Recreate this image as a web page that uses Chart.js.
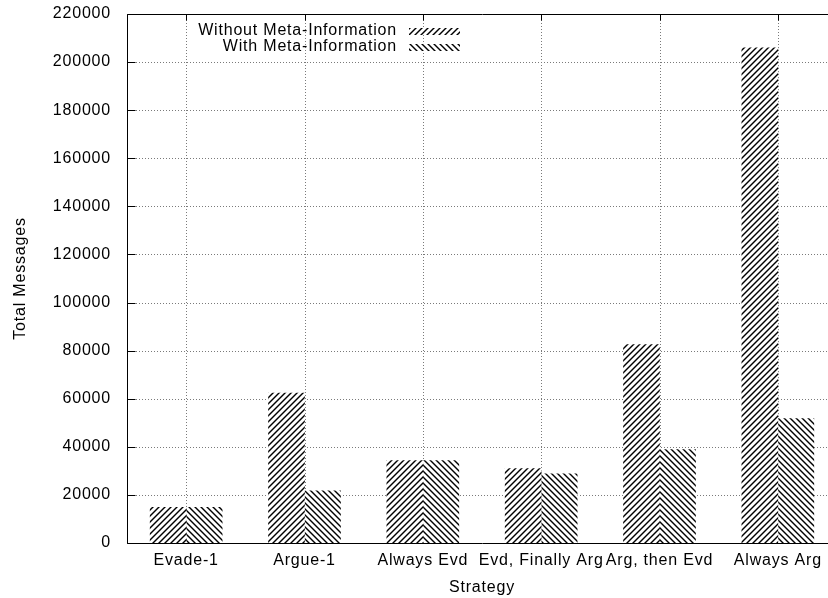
<!DOCTYPE html>
<html>
<head>
<meta charset="utf-8">
<script src="https://cdn.jsdelivr.net/npm/chart.js@4"></script>
<style>
  html, body { margin: 0; padding: 0; overflow: hidden; background: #fff; }
  #wrap { width: 845px; height: 598px; position: relative; }
</style>
</head>
<body>
<div id="wrap"><canvas id="c"></canvas></div>
<script>
// Total messages exchanged per strategy
const strategies = ['Evade-1', 'Argue-1', 'Always Evd', 'Evd, Finally Arg', 'Arg, then Evd', 'Always Arg'];
const withoutMeta = [14800, 62300, 34300, 31000, 82500, 205900];
const withMeta = [14800, 21700, 34300, 28800, 38800, 51700];
const seriesNames = ['Without Meta-Information', 'With Meta-Information'];
const yMax = 220000;
const yStep = 20000;

const FONT = 'Liberation Sans, Arial, Helvetica, sans-serif';
const SPACING = '0.8px';

const canvas = document.getElementById('c');
const ctx = canvas.getContext('2d');

// Black diagonal hatching on white; dir > 0 draws "/", dir < 0 draws "\"
function hatch(dir) {
  const p = 6;
  const t = document.createElement('canvas');
  t.width = p; t.height = p;
  const g = t.getContext('2d');
  g.fillStyle = '#fff';
  g.fillRect(0, 0, p, p);
  g.strokeStyle = '#000';
  g.lineWidth = 1.4;
  for (const o of [-p, 0, p]) {
    g.beginPath();
    if (dir > 0) { g.moveTo(o - 1, p + 1); g.lineTo(o + p + 1, -1); }
    else { g.moveTo(o - 1, -1); g.lineTo(o + p + 1, p + 1); }
    g.stroke();
  }
  return ctx.createPattern(t, 'repeat');
}

const fills = [hatch(1), hatch(-1)];

// Wider glyph spacing for all canvas text
const spacingPlugin = {
  id: 'spacing',
  beforeUpdate(chart) { chart.ctx.letterSpacing = SPACING; },
  beforeLayout(chart) { chart.ctx.letterSpacing = SPACING; },
  beforeDraw(chart) { chart.ctx.letterSpacing = SPACING; }
};

// Dotted grey grid at every value tick and every strategy
const gridPlugin = {
  id: 'dottedGrid',
  beforeDatasetsDraw(chart) {
    const { ctx, chartArea: a, scales } = chart;
    ctx.save();
    ctx.strokeStyle = '#7a7a7a';
    ctx.lineWidth = 1;
    ctx.setLineDash([1, 2]);
    ctx.beginPath();
    scales.y.ticks.forEach(tk => {
      const y = Math.round(scales.y.getPixelForValue(tk.value)) + 0.5;
      ctx.moveTo(a.left, y); ctx.lineTo(a.right, y);
    });
    strategies.forEach((s, i) => {
      const x = Math.round(scales.x.getPixelForValue(i)) + 0.5;
      ctx.moveTo(x, a.top); ctx.lineTo(x, a.bottom);
    });
    ctx.stroke();
    ctx.restore();
  }
};

// Plot frame with inward tick marks
const framePlugin = {
  id: 'frame',
  afterDatasetsDraw(chart) {
    const { ctx, chartArea: a, scales } = chart;
    const L = Math.round(a.left) + 0.5, R = Math.round(a.right) + 0.5;
    const T = Math.round(a.top) + 0.5, B = Math.round(a.bottom) + 0.5;
    ctx.save();
    ctx.strokeStyle = '#000';
    ctx.lineWidth = 1;
    ctx.setLineDash([]);
    ctx.beginPath();
    ctx.moveTo(L, T); ctx.lineTo(R, T); ctx.lineTo(R, B); ctx.lineTo(L, B); ctx.closePath();
    scales.y.ticks.forEach(tk => {
      const y = Math.round(scales.y.getPixelForValue(tk.value)) + 0.5;
      ctx.moveTo(L, y); ctx.lineTo(L + 8, y);
      ctx.moveTo(R, y); ctx.lineTo(R - 8, y);
    });
    strategies.forEach((s, i) => {
      const x = Math.round(scales.x.getPixelForValue(i)) + 0.5;
      ctx.moveTo(x, T); ctx.lineTo(x, T + 6);
    });
    ctx.stroke();
    ctx.restore();
  }
};

// Key in the upper part of the plot: right-aligned labels followed by a hatched sample
const keyPlugin = {
  id: 'key',
  afterDatasetsDraw(chart) {
    const { ctx } = chart;
    const textRight = 397, sx = 409, sw = 51, sh = 7;
    const rows = [31, 47];
    ctx.save();
    ctx.font = '16px ' + FONT;
    ctx.letterSpacing = SPACING;
    ctx.fillStyle = '#000';
    ctx.textAlign = 'right';
    ctx.textBaseline = 'middle';
    chart.data.datasets.forEach((ds, i) => {
      const cy = rows[i];
      ctx.fillText(ds.label, textRight, cy);
      ctx.fillStyle = ds.backgroundColor;
      ctx.fillRect(sx, Math.round(cy - sh / 2), sw, sh);
      ctx.fillStyle = '#000';
    });
    ctx.restore();
  }
};

new Chart(canvas, {
  type: 'bar',
  data: {
    labels: strategies,
    datasets: [
      { label: seriesNames[0], data: withoutMeta, backgroundColor: fills[0], borderWidth: 0, barThickness: 36 },
      { label: seriesNames[1], data: withMeta, backgroundColor: fills[1], borderWidth: 0, barThickness: 36 }
    ]
  },
  options: {
    responsive: true,
    maintainAspectRatio: false,
    animation: false,
    events: [],
    layout: { padding: { left: 0, top: 14, right: 8, bottom: 0 } },
    plugins: {
      legend: { display: false },
      tooltip: { enabled: false }
    },
    scales: {
      x: {
        type: 'category',
        offset: true,
        grid: { display: false, drawTicks: false },
        border: { display: false },
        ticks: {
          color: '#000',
          font: { family: FONT, size: 16 },
          padding: 8,
          maxRotation: 0,
          autoSkip: false
        },
        title: {
          display: true,
          text: 'Strategy',
          color: '#000',
          font: { family: FONT, size: 16 },
          padding: { top: 0, bottom: 1 }
        },
        afterFit(scale) { scale.height = 55; }
      },
      y: {
        min: 0,
        max: yMax,
        grid: { display: false, drawTicks: false },
        border: { display: false },
        ticks: {
          stepSize: yStep,
          color: '#000',
          font: { family: FONT, size: 16 },
          padding: 16,
          callback: v => String(v)
        },
        title: {
          display: true,
          text: 'Total Messages',
          color: '#000',
          font: { family: FONT, size: 16 },
          padding: { top: 11, bottom: 0 }
        },
        afterFit(scale) {
          scale.width = 127;
          scale.paddingTop = 0;
          scale.paddingBottom = 0;
        }
      }
    }
  },
  plugins: [spacingPlugin, gridPlugin, framePlugin, keyPlugin]
});
</script>
</body>
</html>
